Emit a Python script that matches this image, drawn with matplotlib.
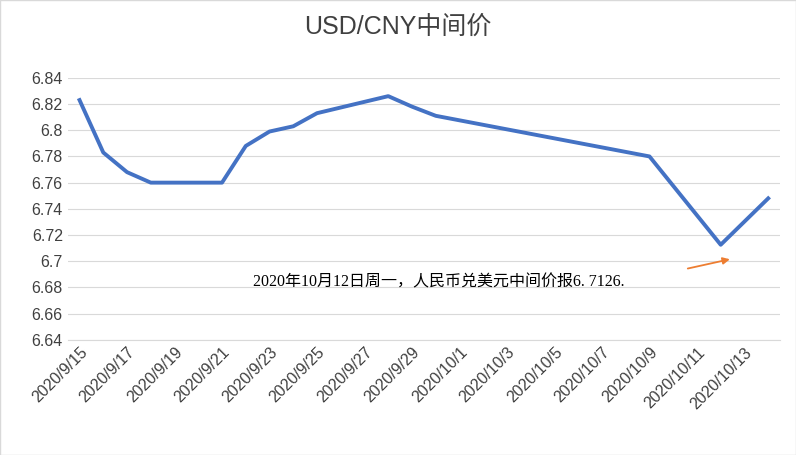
import matplotlib
matplotlib.use("Agg")
import matplotlib.pyplot as plt
import pandas as pd

plt.rcParams['font.family'] = ['Liberation Sans', 'Noto Sans CJK SC', 'DejaVu Sans']

dates = ["2020-09-15","2020-09-16","2020-09-17","2020-09-18","2020-09-21","2020-09-22",
         "2020-09-23","2020-09-24","2020-09-25","2020-09-28","2020-09-29","2020-09-30",
         "2020-10-09","2020-10-12","2020-10-14"]
values = [6.823,6.783,6.768,6.760,6.760,6.788,6.799,6.803,6.813,6.826,6.818,6.811,6.780,6.7126,6.748]
tick_dates = pd.date_range("2020-09-15","2020-10-13",freq="2D")
tick_labels = [f"{d.year}/{d.month}/{d.day}" for d in tick_dates]

x = pd.to_datetime(dates)
fig = plt.figure(figsize=(7.96,4.55), dpi=100)
ax = fig.add_axes([0.085,0.253,0.895,0.576])
ax.plot(x, values, color='#4472C4', lw=2.8)
ax.set_ylim(6.64,6.84)
ax.set_yticks([6.64+0.02*i for i in range(11)])
ax.set_yticklabels(["6.64","6.66","6.68","6.7","6.72","6.74","6.76","6.78","6.8","6.82","6.84"], fontsize=11.5, color='#404040')
ax.set_xlim(pd.Timestamp("2020-09-14 12:00"), pd.Timestamp("2020-10-14 12:00"))
ax.set_xticks(tick_dates)
ax.set_xticklabels(tick_labels, rotation=45, ha='right', rotation_mode='anchor', fontsize=11.5, color='#404040')
ax.grid(axis='y', color='#d9d9d9', lw=0.8)
ax.tick_params(length=0)
for s in ['top','right','left']:
    ax.spines[s].set_visible(False)
ax.spines['bottom'].set_color('#d9d9d9')
fig.text(0.5, 0.925, "USD/CNY中间价", ha='center', fontsize=18, color='#404040',
         family=['Liberation Sans','Noto Sans CJK SC'])
ax.text(0.26, 0.205, "2020年10月12日周一，人民币兑美元中间价报6. 7126.", transform=ax.transAxes,
        fontsize=11.5, family=['Liberation Serif','Noto Sans CJK SC'])
ax.annotate("", xy=(pd.Timestamp("2020-10-12 12:00"), 6.702), xytext=(pd.Timestamp("2020-10-10 12:00"), 6.694),
            arrowprops=dict(arrowstyle='-|>', color='#ED7D31', lw=1.3))
fig.patches.append(plt.Rectangle((0,0),1,1,transform=fig.transFigure,fill=False,ec='#d9d9d9',lw=1))
fig.savefig("out.png", dpi=100)
